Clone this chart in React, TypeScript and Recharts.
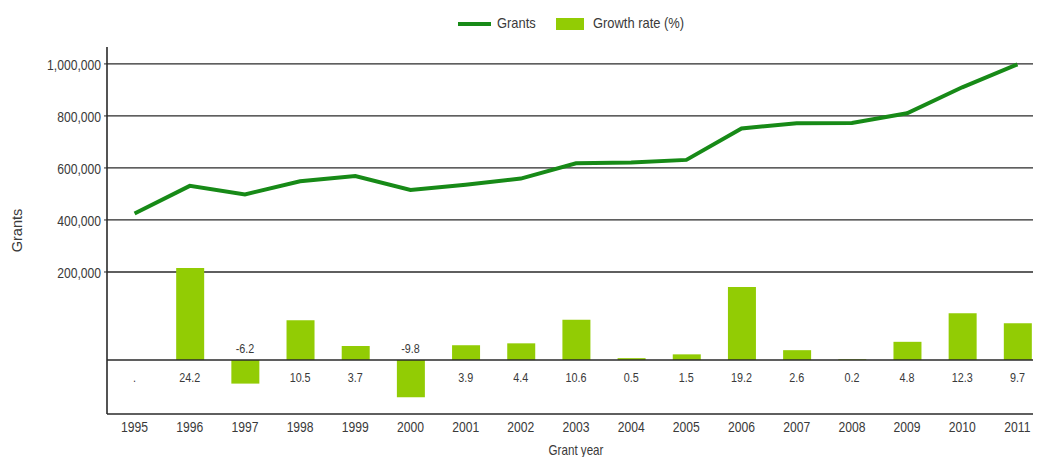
import React from 'react';
import { ComposedChart, Line, Bar, Scatter, XAxis, YAxis, CartesianGrid, ReferenceLine, LabelList } from 'recharts';

const years = ['1995','1996','1997','1998','1999','2000','2001','2002','2003','2004','2005','2006','2007','2008','2009','2010','2011'];
const grants = [425000, 531000, 498000, 549000, 569000, 515000, 535000, 559000, 618000, 621000, 631000, 752000, 772000, 773000, 810000, 910000, 998000];
const growth: (number | null)[] = [null, 24.2, -6.2, 10.5, 3.7, -9.8, 3.9, 4.4, 10.6, 0.5, 1.5, 19.2, 2.6, 0.2, 4.8, 12.3, 9.7];
const growthLabels = ['.', '24.2', '-6.2', '10.5', '3.7', '-9.8', '3.9', '4.4', '10.6', '0.5', '1.5', '19.2', '2.6', '0.2', '4.8', '12.3', '9.7'];
const grantTicks = [200000, 400000, 600000, 800000, 1000000];
const grantDomain = [-346000, 1065000];

const data = years.map((y, i) => ({ year: y, grants: grants[i], growth: growth[i], label: growthLabels[i], anchor: 0 }));

const FONT = '"Liberation Sans", Arial, sans-serif';
const LINE_COLOR = '#178a17';
const BAR_COLOR = '#92cc04';
const TEXT = '#3a3a3a';
const AXIS = '#2a2a2a';

const fmt = (v: number) => v.toLocaleString('en-US');

const NarrowText = ({ x, y, children, size = 15, sx = 0.81, anchor = 'middle', rotate = 0 }: any) => (
  <text
    transform={`translate(${x},${y}) rotate(${rotate}) scale(${sx},1)`}
    x={0}
    y={0}
    textAnchor={anchor}
    dominantBaseline="central"
    fontFamily={FONT}
    fontSize={size}
    fill={TEXT}
  >
    {children}
  </text>
);

const XTick = (props: any) => {
  const { x, y, payload } = props;
  return <NarrowText x={x} y={y + 5} size={15} sx={0.81}>{payload.value}</NarrowText>;
};

const YTick = (props: any) => {
  const { x, y, payload } = props;
  return <NarrowText x={x - 1} y={y + 1} size={15} sx={0.81} anchor="end">{fmt(payload.value)}</NarrowText>;
};

const PointLabel = (props: any) => {
  const { x, y, width, height, value, index } = props;
  const g = growth[index];
  const cx = x + (width || 0) / 2;
  const zero = y + (height || 0) / 2;
  const neg = g != null && g < 0;
  const ty = neg ? zero - 11 : zero + 18;
  return <NarrowText x={cx} y={ty} size={13} sx={0.83}>{value}</NarrowText>;
};

const XTitle = (props: any) => {
  const vb = props.viewBox || {};
  return <NarrowText x={vb.x + vb.width / 2} y={vb.y + 36} size={14} sx={0.83}>{'Grant year'}</NarrowText>;
};

const YTitle = (props: any) => {
  const vb = props.viewBox || {};
  return <NarrowText x={9} y={vb.y + vb.height / 2} size={15} sx={0.97} rotate={-90}>{'Grants'}</NarrowText>;
};

const gridGen = (args: any) => {
  const { yAxis, offset } = args || {};
  if (yAxis && typeof yAxis.scale === 'function') return grantTicks.map((t) => yAxis.scale(t));
  const top = offset?.top ?? 39;
  const h = offset?.height ?? 367;
  return grantTicks.map((t) => top + (h * (grantDomain[1] - t)) / (grantDomain[1] - grantDomain[0]));
};

const legendText: React.CSSProperties = {
  position: 'absolute',
  top: 6,
  fontSize: 15,
  color: TEXT,
  lineHeight: '18px',
  whiteSpace: 'nowrap',
  transform: 'scaleX(0.86)',
  transformOrigin: 'left center',
  fontFamily: FONT,
};

const NoShape = () => null;

export default function App() {
  return (
    <div style={{ position: 'relative', width: 1033, height: 449, overflow: 'hidden', fontFamily: FONT }}>
      <div style={{ position: 'absolute', top: 0, left: 0, width: 1033, height: 30, zIndex: 2 }}>
        <div style={{ position: 'absolute', left: 450, top: 14, width: 33, height: 4, background: LINE_COLOR }} />
        <div style={{ ...legendText, left: 489 }}>Grants</div>
        <div style={{ position: 'absolute', left: 548, top: 10, width: 28, height: 12, background: BAR_COLOR }} />
        <div style={{ ...legendText, left: 585 }}>Growth rate (%)</div>
      </div>
      <ComposedChart width={1040} height={449} data={data} margin={{ top: 39, right: 3, bottom: 0, left: 0 }} barCategoryGap="24%">
        <CartesianGrid
          vertical={false}
          stroke={AXIS}
          strokeWidth={1.3}
          yAxisId="left"
          horizontalCoordinatesGenerator={gridGen}
        />
        <XAxis
          dataKey="year"
          height={43}
          axisLine={{ stroke: AXIS, strokeWidth: 1.6 }}
          tickLine={false}
          tick={<XTick />}
          label={<XTitle />}
        />
        <YAxis
          yAxisId="left"
          width={99}
          domain={grantDomain}
          ticks={grantTicks}
          allowDataOverflow
          axisLine={{ stroke: AXIS, strokeWidth: 1.6 }}
          tickLine={{ stroke: AXIS }}
          tickSize={3}
          tick={<YTick />}
          label={<YTitle />}
        />
        <YAxis yAxisId="right" orientation="right" hide domain={[-14.2, 82.4]} allowDataOverflow />
        <ReferenceLine yAxisId="right" y={0} stroke={AXIS} strokeWidth={1.6} />
        <Bar yAxisId="right" dataKey="growth" fill={BAR_COLOR} barSize={28} isAnimationActive={false} />
        <Scatter yAxisId="right" dataKey="anchor" shape={<NoShape />} isAnimationActive={false}>
          <LabelList dataKey="label" content={<PointLabel />} />
        </Scatter>
        <Line yAxisId="left" dataKey="grants" stroke={LINE_COLOR} strokeWidth={4} dot={false} isAnimationActive={false} />
      </ComposedChart>
    </div>
  );
}
